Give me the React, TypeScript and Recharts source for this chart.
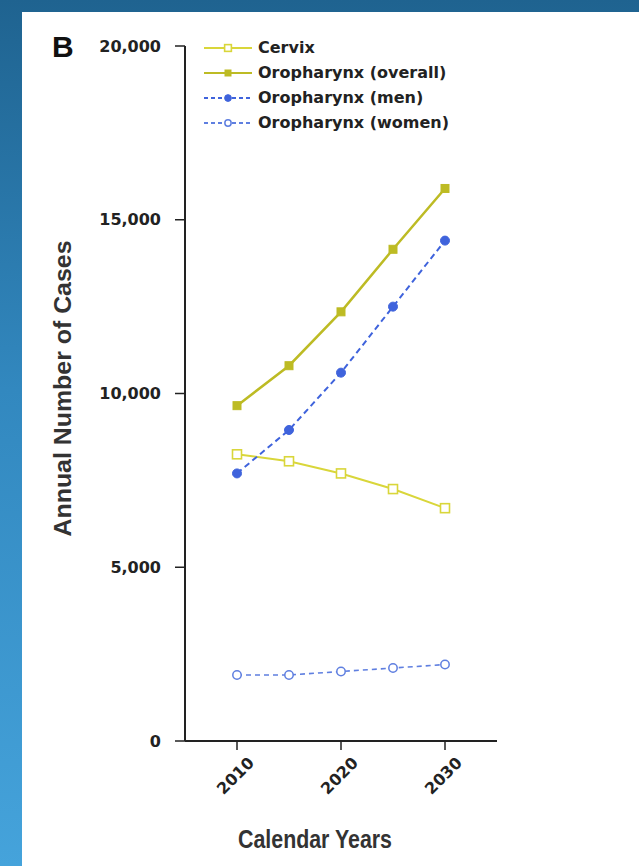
import React from 'react';
import { LineChart, Line, XAxis, YAxis, Legend, Label } from 'recharts';

const years = [2010, 2015, 2020, 2025, 2030];
const cervix = [8250, 8050, 7700, 7250, 6700];
const oroOverall = [9650, 10800, 12350, 14150, 15900];
const oroMen = [7700, 8950, 10600, 12500, 14400];
const oroWomen = [1900, 1900, 2000, 2100, 2200];
const xTicks = [2010, 2020, 2030];
const yTicks = [0, 5000, 10000, 15000, 20000];

const seriesNames = ['Cervix', 'Oropharynx (overall)', 'Oropharynx (men)', 'Oropharynx (women)'];

const data = years.map((y, i) => ({
  year: y,
  cervix: cervix[i],
  overall: oroOverall[i],
  men: oroMen[i],
  women: oroWomen[i],
}));

const YELLOW_LIGHT = '#d9d63a';
const YELLOW_DARK = '#bdbb24';
const BLUE = '#3f63dc';
const BLUE_LIGHT = '#5f7fe0';

const series = [
  { key: 'cervix', name: seriesNames[0], color: YELLOW_LIGHT, dash: undefined, marker: 'openSquare', width: 2 },
  { key: 'overall', name: seriesNames[1], color: YELLOW_DARK, dash: undefined, marker: 'square', width: 2.5 },
  { key: 'men', name: seriesNames[2], color: BLUE, dash: '6 4', marker: 'circle', width: 2 },
  { key: 'women', name: seriesNames[3], color: BLUE_LIGHT, dash: '5 4', marker: 'openCircle', width: 1.6 },
];

const TICK_FONT = '"DejaVu Sans", sans-serif';
const TITLE_FONT = '"Liberation Sans", Arial, sans-serif';

function Marker({ cx, cy, type, color, scale = 1 }: any) {
  if (cx == null || cy == null) return null;
  if (type === 'openSquare') {
    const h = 4.5 * scale;
    return <rect x={cx - h} y={cy - h} width={2 * h} height={2 * h} fill="#fff" stroke={color} strokeWidth={1.6} />;
  }
  if (type === 'square') {
    const h = 4 * scale;
    return <rect x={cx - h} y={cy - h} width={2 * h} height={2 * h} fill={color} stroke={color} strokeWidth={1} />;
  }
  if (type === 'circle') {
    return <circle cx={cx} cy={cy} r={4.5 * scale} fill={color} stroke={color} strokeWidth={1} />;
  }
  return <circle cx={cx} cy={cy} r={4.2 * scale} fill="#fff" stroke={color} strokeWidth={1.5} />;
}

const makeDot = (type: string, color: string) => (props: any) => (
  <Marker key={`${type}-${props.index}`} cx={props.cx} cy={props.cy} type={type} color={color} />
);

function XTick({ x, y, payload }: any) {
  return (
    <g transform={`translate(${x + 18},${y + 12})`}>
      <text
        x={0}
        y={0}
        textAnchor="end"
        transform="rotate(-45)"
        fontFamily={TICK_FONT}
        fontWeight={700}
        fontSize={16}
        fill="#222"
      >
        {payload.value}
      </text>
    </g>
  );
}

function LegendContent() {
  return (
    <div style={{ display: 'flex', flexDirection: 'column' }}>
      {series.map((s) => (
        <div key={s.key} style={{ display: 'flex', alignItems: 'center', height: 25 }}>
          <svg width={50} height={14} style={{ display: 'block' }}>
            <line x1={1} y1={7} x2={49} y2={7} stroke={s.color} strokeWidth={1.8} strokeDasharray={s.dash ? '4 3' : undefined} />
            <Marker cx={25} cy={7} type={s.marker} color={s.color} scale={0.75} />
          </svg>
          <span
            style={{
              fontFamily: TICK_FONT,
              fontWeight: 700,
              fontSize: 16,
              color: '#222',
              marginLeft: 5,
              whiteSpace: 'nowrap',
            }}
          >
            {s.name}
          </span>
        </div>
      ))}
    </div>
  );
}

export default function App() {
  return (
    <div
      style={{
        position: 'absolute',
        left: 0,
        top: 0,
        width: 639,
        height: 866,
        overflow: 'hidden',
        background: 'linear-gradient(180deg, #1f6390 0%, #3288bf 45%, #45a3db 100%)',
      }}
    >
      <div
        style={{
          position: 'absolute',
          left: 22,
          top: 12,
          right: 0,
          bottom: 0,
          background: '#fff',
        }}
      />
      <div
        style={{
          position: 'absolute',
          left: 52,
          top: 30,
          fontFamily: '"Liberation Sans", Arial, sans-serif',
          fontWeight: 700,
          fontSize: 30,
          color: '#111',
          lineHeight: '34px',
        }}
      >
        B
      </div>
      <div style={{ position: 'absolute', left: 0, top: 0 }}>
        <LineChart
          width={639}
          height={866}
          data={data}
          margin={{ top: 46, right: 142, bottom: 95, left: 125 }}
        >
          <XAxis
            dataKey="year"
            type="number"
            domain={[2005, 2035]}
            ticks={xTicks}
            height={30}
            tickSize={9}
            tick={<XTick />}
            axisLine={{ stroke: '#222', strokeWidth: 2 }}
            tickLine={{ stroke: '#222', strokeWidth: 1.5 }}
            allowDataOverflow
          >
            <Label
              content={({ viewBox }: any) => (
                <text
                  x={viewBox.x + viewBox.width / 2 - 26}
                  y={viewBox.y + 107}
                  textAnchor="middle"
                  fontFamily={TITLE_FONT}
                  fontWeight={700}
                  fontSize={25}
                  textLength={154}
                  lengthAdjust="spacingAndGlyphs"
                  fill="#333"
                >
                  Calendar Years
                </text>
              )}
            />
          </XAxis>
          <YAxis
            type="number"
            domain={[0, 20000]}
            ticks={yTicks}
            width={60}
            tickSize={10}
            tickMargin={14}
            tickFormatter={(v: number) => v.toLocaleString('en-US')}
            tick={{ fontFamily: TICK_FONT, fontWeight: 700, fontSize: 16, fill: '#222' }}
            axisLine={{ stroke: '#222', strokeWidth: 2 }}
            tickLine={{ stroke: '#222', strokeWidth: 1.5 }}
          >
            <Label
              content={({ viewBox }: any) => {
                const cy = viewBox.y + viewBox.height / 2 - 5;
                return (
                  <text
                    x={62}
                    y={cy}
                    textAnchor="middle"
                    dominantBaseline="central"
                    transform={`rotate(-90, 62, ${cy})`}
                    fontFamily={TITLE_FONT}
                    fontWeight={700}
                    fontSize={24}
                    textLength={296}
                    lengthAdjust="spacingAndGlyphs"
                    fill="#333"
                  >
                    Annual Number of Cases
                  </text>
                );
              }}
            />
          </YAxis>
          <Legend
            layout="vertical"
            align="center"
            verticalAlign="middle"
            content={<LegendContent />}
            wrapperStyle={{ position: 'absolute', top: 35, left: 203, width: 'auto' }}
          />
          {series.map((s) => (
            <Line
              key={s.key}
              type="linear"
              dataKey={s.key}
              name={s.name}
              stroke={s.color}
              strokeWidth={s.width}
              strokeDasharray={s.dash}
              dot={makeDot(s.marker, s.color)}
              activeDot={false}
              isAnimationActive={false}
            />
          ))}
        </LineChart>
      </div>
    </div>
  );
}
